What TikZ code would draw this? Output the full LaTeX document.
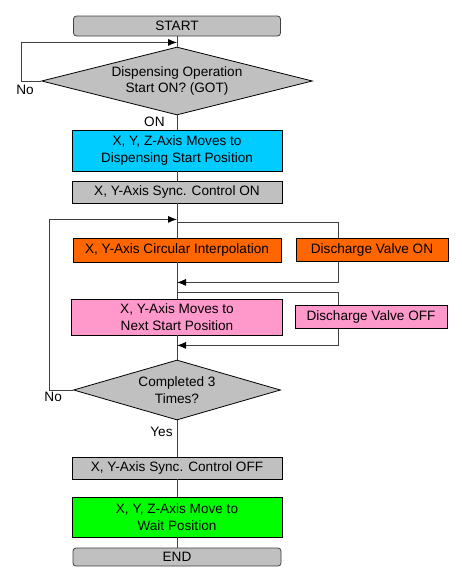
\documentclass[tikz,border=0pt]{standalone}
\usepackage{fontspec}
\setmainfont{Liberation Sans}
\usetikzlibrary{shapes.geometric, arrows.meta, positioning}
\definecolor{boxgray}{HTML}{C0C0C0}
\definecolor{boxcyan}{HTML}{00CCFF}
\definecolor{boxorange}{HTML}{FF6600}
\definecolor{boxpink}{HTML}{FF99CC}
\definecolor{boxgreen}{HTML}{00FF00}
\tikzstyle{block}=[draw,rectangle,align=center,inner sep=0pt,line width=0.8pt,minimum width=210pt]
\tikzstyle{terminal}=[block,rounded corners=3pt,fill=boxgray,draw=black!75]
\tikzstyle{decision}=[draw,diamond,fill=boxgray,align=center,inner sep=0pt,line width=0.8pt]
\tikzstyle{wire}=[draw=black!75,line width=0.8pt]
\tikzstyle{every node}=[font=\fontsize{13.6}{16.5}\selectfont]

\begin{document}
\begin{tikzpicture}[x=1pt,y=-1pt,>={Latex[length=9pt,width=7pt,color=black]}]
  \useasboundingbox (0,0) rectangle (462,581);
  % main column
  \node[terminal, minimum width=207pt, minimum height=20pt] (start) at (177,26) {START};
  \node[decision, aspect=3.99, minimum width=271pt, minimum height=68pt, below of=start, node distance=55pt] (ask) {Dispensing Operation\\Start ON? (GOT)};
  \node[block, fill=boxcyan, minimum height=41pt, below of=ask, node distance=69.5pt] (home) {X, Y, Z-Axis Moves to\\Dispensing Start Position};
  \node[block, fill=boxgray, minimum height=22pt, below of=home, node distance=41.5pt] (syncon) {X, Y-Axis Sync. Control ON};
  \node[block, fill=boxorange, minimum width=208pt, minimum height=24pt, below of=syncon, node distance=58pt] (arc) {X, Y-Axis Circular Interpolation};
  \node[block, fill=boxpink, minimum width=211pt, minimum height=36pt, below of=arc, node distance=67pt] (next) {X, Y-Axis Moves to\\Next Start Position};
  \node[decision, aspect=3.45, minimum width=207pt, minimum height=60pt, below of=next, node distance=73pt] (count) {Completed 3\\Times?};
  \node[block, fill=boxgray, minimum height=22pt, below of=count, node distance=78pt] (syncoff) {X, Y-Axis Sync. Control OFF};
  \node[block, fill=boxgreen, minimum height=40pt, below of=syncoff, node distance=49pt] (park) {X, Y, Z-Axis Move to\\Wait Position};
  \node[terminal, minimum width=208pt, minimum height=18pt, below of=park, node distance=40pt] (finish) {END};
  % side boxes
  \node[block, fill=boxorange, minimum width=152pt, minimum height=23pt, right of=arc, node distance=195pt] (valveon) {Discharge Valve ON};
  \node[block, fill=boxpink, minimum width=152pt, minimum height=23pt, right of=next, node distance=194pt] (valveoff) {Discharge Valve OFF};
  % join points
  \coordinate[below=6pt of start] (j1);
  \coordinate[below=16pt of syncon] (j2);
  \coordinate[below=19pt of syncon] (s1);
  \coordinate[below=20pt of arc] (m1);
  \coordinate[above=6pt of next] (s2);
  \coordinate[below=10pt of next] (m2);
  \draw[wire] (start) -- (ask);
  \draw[wire] (ask) -- node[pos=0, below left=0pt and 11pt, inner sep=1pt] {ON} (home);
  \draw[wire] (home) -- (syncon);
  \draw[wire] (syncon) -- (arc);
  \draw[wire] (arc) -- (next);
  \draw[wire] (next) -- (count);
  \draw[wire] (count) -- node[pos=0.31, left=3pt, inner sep=1pt] {Yes} (syncoff);
  \draw[wire] (syncoff) -- (park);
  \draw[wire] (park) -- (finish);
  \draw[wire,->] (ask.west) -- node[pos=0.8, below] {No} ++(-20,0) |- (j1);
  \draw[wire,->] (count.west) -- node[pos=0.83, below, inner sep=1.5pt] {No} ++(-24,0) |- (j2);
  \draw[wire] (s1) -| ([xshift=43]valveon.north west);
  \draw[wire,->] ([xshift=43]valveon.south west) |- (m1);
  \draw[wire] (s2) -| ([xshift=44]valveoff.north west);
  \draw[wire,->] ([xshift=44]valveoff.south west) |- (m2);
\end{tikzpicture}
\end{document}
